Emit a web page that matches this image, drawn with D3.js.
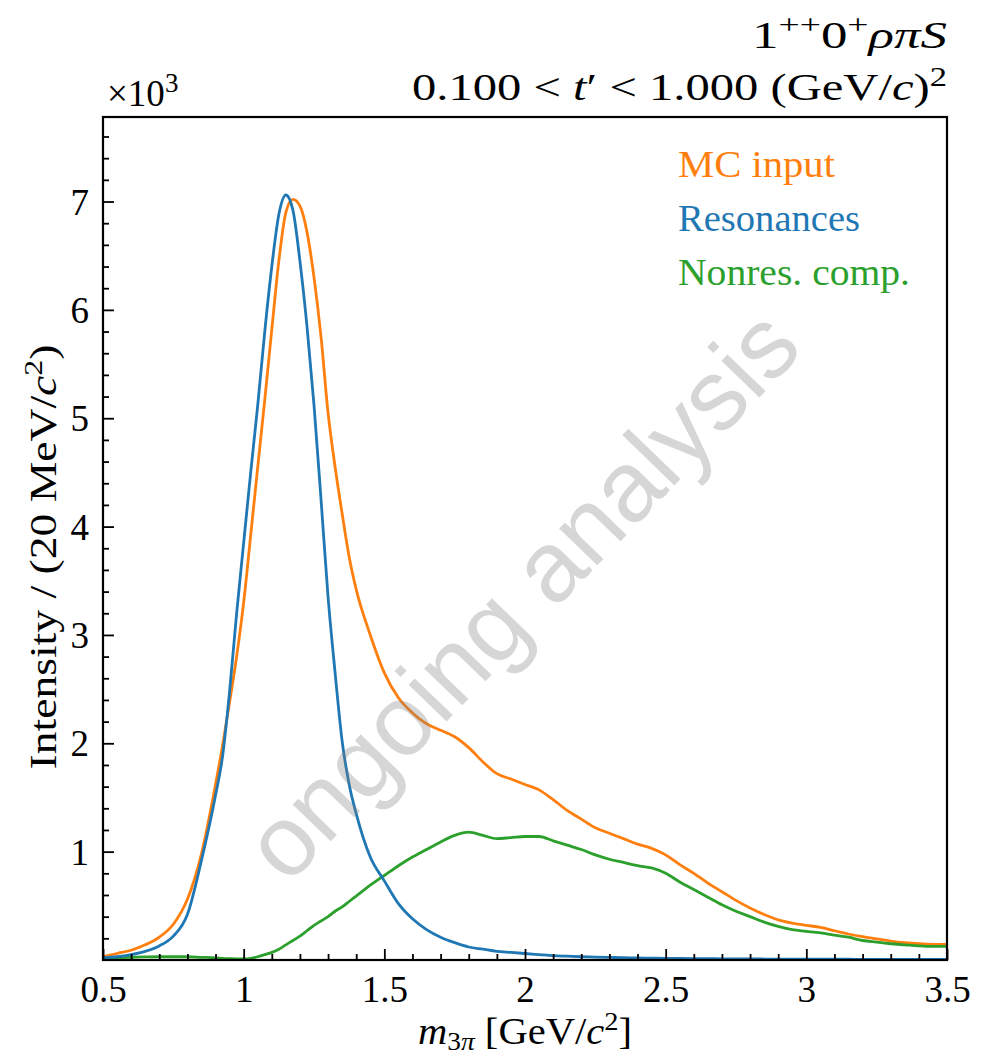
<!DOCTYPE html>
<html>
<head>
<meta charset="utf-8">
<script src="https://cdn.jsdelivr.net/npm/d3@7"></script>
<style>
  html, body { margin: 0; padding: 0; background: #fff; }
  svg text { font-family: "Liberation Serif", "Times New Roman", serif; fill: #000; }
</style>
</head>
<body>
<svg id="chart" width="987" height="1058"></svg>
<script>
// m_3pi bin centres (GeV/c^2), finer around the peak
const mass = [0.50, 0.55, 0.60, 0.65, 0.70, 0.75, 0.80, 0.85, 0.90,
  0.925, 0.95, 0.975, 1.00, 1.025, 1.05, 1.075, 1.10, 1.125, 1.15, 1.175,
  1.20, 1.225, 1.25, 1.275, 1.30, 1.325, 1.35, 1.375, 1.40,
  1.45, 1.50, 1.55, 1.60, 1.65, 1.70, 1.75, 1.80, 1.85, 1.90, 1.95,
  2.00, 2.05, 2.10, 2.15, 2.20, 2.25, 2.30, 2.35, 2.40, 2.45,
  2.50, 2.55, 2.60, 2.65, 2.70, 2.75, 2.80, 2.85, 2.90, 2.95,
  3.00, 3.05, 3.10, 3.15, 3.20, 3.25, 3.30, 3.35, 3.40, 3.45, 3.50];

// intensities in units of 10^3
const mcInput = [0.03, 0.06, 0.09, 0.14, 0.21, 0.33, 0.56, 0.98, 1.62,
  1.98, 2.38, 2.8, 3.3, 3.92, 4.55, 5.17, 5.82, 6.45, 6.9, 7.02,
  6.96, 6.72, 6.3, 5.75, 5.05, 4.55, 4.12, 3.72, 3.42,
  3.0, 2.65, 2.42, 2.28, 2.18, 2.12, 2.06, 1.96, 1.83, 1.72, 1.67,
  1.62, 1.57, 1.48, 1.38, 1.30, 1.22, 1.17, 1.12, 1.07, 1.03,
  0.97, 0.88, 0.80, 0.71, 0.63, 0.55, 0.48, 0.42, 0.37, 0.34,
  0.32, 0.30, 0.27, 0.24, 0.215, 0.195, 0.175, 0.16, 0.15, 0.145, 0.145];

const resonances = [0.02, 0.03, 0.05, 0.08, 0.13, 0.22, 0.42, 0.92, 1.52,
  1.88, 2.48, 3.2, 3.85, 4.5, 5.12, 5.8, 6.4, 6.88, 7.06, 6.92,
  6.45, 5.85, 5.12, 4.25, 3.35, 2.65, 2.02, 1.62, 1.35,
  0.95, 0.73, 0.52, 0.38, 0.28, 0.21, 0.16, 0.12, 0.10, 0.08, 0.07,
  0.06, 0.05, 0.04, 0.035, 0.03, 0.027, 0.024, 0.021, 0.019, 0.017,
  0.015, 0.014, 0.013, 0.012, 0.011, 0.01, 0.01, 0.009, 0.009, 0.008,
  0.008, 0.007, 0.007, 0.007, 0.006, 0.006, 0.006, 0.005, 0.005, 0.005, 0.005];

const nonres = [0.02, 0.022, 0.025, 0.028, 0.03, 0.03, 0.03, 0.025, 0.02,
  0.015, 0.012, 0.01, 0.01, 0.015, 0.03, 0.05, 0.07, 0.1, 0.14, 0.18,
  0.22, 0.27, 0.32, 0.36, 0.40, 0.45, 0.49, 0.54, 0.59,
  0.69, 0.78, 0.87, 0.95, 1.02, 1.09, 1.15, 1.18, 1.15, 1.12, 1.13,
  1.14, 1.14, 1.10, 1.06, 1.02, 0.97, 0.93, 0.90, 0.87, 0.85,
  0.80, 0.72, 0.65, 0.58, 0.51, 0.45, 0.40, 0.35, 0.31, 0.28,
  0.265, 0.25, 0.23, 0.21, 0.18, 0.165, 0.15, 0.14, 0.13, 0.125, 0.125];

const seriesNames = ["MC input", "Resonances", "Nonres. comp."];
const seriesColors = ["#ff7f0e", "#1f77b4", "#2ca02c"];
const xTicks = [0.5, 1, 1.5, 2, 2.5, 3, 3.5];
const yTicks = [1, 2, 3, 4, 5, 6, 7];

const svg = d3.select("#chart");
const plotL = 103, plotR = 947, plotT = 117, plotB = 960;

const x = d3.scaleLinear().domain([0.5, 3.5]).range([plotL, plotR]);
const y = d3.scaleLinear().domain([0, 7.78]).range([plotB, plotT]);

// lines (drawn first, watermark goes over them)
const plot = svg.append("g");
plot.append("defs").append("clipPath").attr("id", "clip")
  .append("rect").attr("x", plotL).attr("y", plotT)
  .attr("width", plotR - plotL).attr("height", plotB - plotT);

const line = d3.line()
  .x(d => x(d[0]))
  .y(d => y(d[1]))
  .curve(d3.curveMonotoneX);

// draw order: MC input, nonres, resonances on top near the peak
const allSeries = [mcInput, resonances, nonres];
[0, 2, 1].forEach(i => {
  plot.append("path")
    .datum(mass.map((m, j) => [m, allSeries[i][j]]))
    .attr("clip-path", "url(#clip)")
    .attr("fill", "none")
    .attr("stroke", seriesColors[i])
    .attr("stroke-width", 2.8)
    .attr("stroke-linejoin", "round")
    .attr("d", line);
});

// watermark
svg.append("text")
  .attr("transform", "translate(521,594) rotate(-46)")
  .attr("text-anchor", "middle")
  .attr("dominant-baseline", "central")
  .style("font-family", "'Liberation Sans', Arial, sans-serif")
  .style("font-size", "100px")
  .style("fill", "#808080")
  .style("fill-opacity", 0.32)
  .text("ongoing analysis");

// axes with inward ticks
const xAxis = d3.axisBottom(x)
  .tickValues(xTicks).tickSize(-11).tickPadding(16)
  .tickFormat(d3.format("~g"));
const xMinor = d3.axisBottom(x)
  .tickValues(d3.range(0.6, 3.45, 0.1).filter(v => Math.abs(v * 2 - Math.round(v * 2)) > 0.01))
  .tickSize(-6).tickFormat("");
const yAxis = d3.axisLeft(y)
  .tickValues(yTicks).tickSize(-11).tickPadding(14)
  .tickFormat(d3.format("d"));
const yMinor = d3.axisLeft(y)
  .tickValues(d3.range(0.2, 7.7, 0.2).filter(v => Math.abs(v - Math.round(v)) > 0.01))
  .tickSize(-6).tickFormat("");

function style(g) {
  g.select(".domain").remove();
  g.selectAll("line").attr("stroke", "#000").attr("stroke-width", 1.8);
  g.selectAll("text").style("font-family", "'Liberation Serif', serif")
    .style("font-size", "37px").attr("fill", "#000");
}

svg.append("g").attr("transform", `translate(0,${plotB})`).call(xAxis).call(style);
svg.append("g").attr("transform", `translate(0,${plotB})`).call(xMinor).call(style);
svg.append("g").attr("transform", `translate(${plotL},0)`).call(yAxis).call(style)
  .selectAll("text").attr("dy", "0.34em");
svg.append("g").attr("transform", `translate(${plotL},0)`).call(yMinor).call(style);

// frame
svg.append("rect")
  .attr("x", plotL).attr("y", plotT)
  .attr("width", plotR - plotL).attr("height", plotB - plotT)
  .attr("fill", "none").attr("stroke", "#000").attr("stroke-width", 2.2);

// legend (text only, coloured)
seriesNames.forEach((name, i) => {
  svg.append("text")
    .attr("x", 678).attr("y", 177 + i * 54)
    .style("font-size", "37px")
    .style("fill", seriesColors[i])
    .attr("textLength", [157, 182, 232][i])
    .attr("lengthAdjust", "spacingAndGlyphs")
    .text(name);
});

// x10^3 multiplier
const mult = svg.append("text").attr("x", 107).attr("y", 106).style("font-size", "37px");
mult.append("tspan").text("×10");
mult.append("tspan").attr("dy", -14).style("font-size", "27px").text("3");

// titles, right aligned
const t1 = svg.append("text").attr("x", plotR).attr("y", 48)
  .attr("text-anchor", "end").style("font-size", "38px")
  .attr("textLength", 195).attr("lengthAdjust", "spacingAndGlyphs");
t1.append("tspan").text("1");
t1.append("tspan").attr("dy", -14).style("font-size", "27px").text("++");
t1.append("tspan").attr("dy", 14).text("0");
t1.append("tspan").attr("dy", -14).style("font-size", "27px").text("+");
t1.append("tspan").attr("dy", 14).style("font-style", "italic").text("ρπS");

const t2 = svg.append("text").attr("x", plotR).attr("y", 100)
  .attr("text-anchor", "end").style("font-size", "38px")
  .attr("textLength", 535).attr("lengthAdjust", "spacingAndGlyphs");
t2.append("tspan").text("0.100 < ");
t2.append("tspan").style("font-style", "italic").text("t");
t2.append("tspan").text("′ < 1.000 (GeV/");
t2.append("tspan").style("font-style", "italic").text("c");
t2.append("tspan").text(")");
t2.append("tspan").attr("dy", -14).style("font-size", "27px").text("2");

// x label
const xl = svg.append("text").attr("x", 525).attr("y", 1044)
  .attr("text-anchor", "middle").style("font-size", "37px")
  .attr("textLength", 214).attr("lengthAdjust", "spacingAndGlyphs");
xl.append("tspan").style("font-style", "italic").text("m");
xl.append("tspan").attr("dy", 6).style("font-size", "25px").text("3");
xl.append("tspan").style("font-size", "25px").style("font-style", "italic").text("π");
xl.append("tspan").attr("dy", -6).text(" [GeV/");
xl.append("tspan").style("font-style", "italic").text("c");
xl.append("tspan").attr("dy", -14).style("font-size", "26px").text("2");
xl.append("tspan").attr("dy", 14).text("]");

// y label
const yl = svg.append("text")
  .attr("transform", "translate(56,557) rotate(-90)")
  .attr("text-anchor", "middle").style("font-size", "37px")
  .attr("textLength", 425).attr("lengthAdjust", "spacingAndGlyphs");
yl.append("tspan").text("Intensity / (20 MeV/");
yl.append("tspan").style("font-style", "italic").text("c");
yl.append("tspan").attr("dy", -14).style("font-size", "26px").text("2");
yl.append("tspan").attr("dy", 14).text(")");
</script>
</body>
</html>
